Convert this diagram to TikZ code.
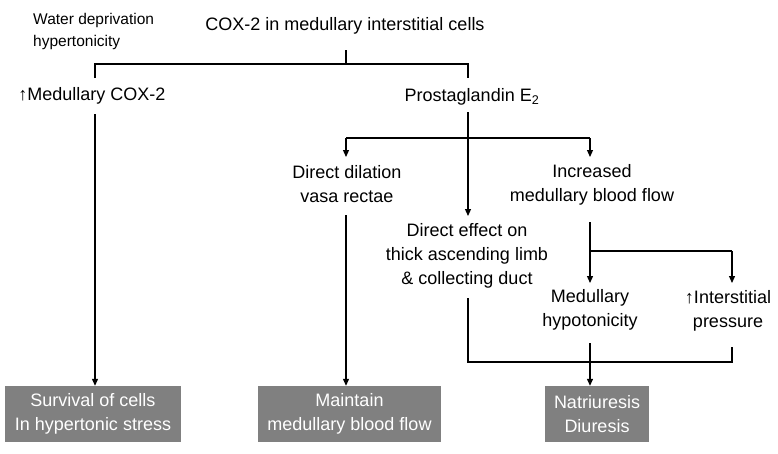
\documentclass[tikz,border=0pt]{standalone}
\usepackage{fontspec}
\setmainfont{Liberation Sans}
\usetikzlibrary{arrows.meta}
\definecolor{boxgray}{RGB}{128,128,128}
\begin{document}
\begin{tikzpicture}[x=1pt,y=-1pt,
  ln/.style={line width=1.2pt},
  arr/.style={line width=1.2pt,-{Triangle[width=6pt,length=7pt]}},
  txt/.style={font=\fontsize{18}{24}\selectfont,align=center,inner sep=0pt},
  small/.style={font=\fontsize{15.5}{22}\selectfont,align=left,inner sep=0pt},
  outbox/.style={fill=boxgray,text=white,font=\fontsize{18}{24}\selectfont,align=center,minimum height=56pt,inner sep=0pt}]
\useasboundingbox (0,0) rectangle (778,453);
% texts
\node[small,anchor=west] (water) at (33,31) {Water deprivation\\hypertonicity};
\node[txt] (cox) at (345,26) {COX-2 in medullary interstitial cells};
\node[txt] (medcox) at (92,96) {↑Medullary COX-2};
\node[txt] (pge) at (472,97) {Prostaglandin E\textsubscript{2}};
\node[txt] (dil) at (347,184) {Direct dilation\\vasa rectae};
\node[txt] (inc) at (592,185) {Increased\\medullary blood flow};
\node[txt] (deff) at (467,256) {Direct effect on\\thick ascending limb\\\& collecting duct};
\node[txt] (hypo) at (590,310) {Medullary\\hypotonicity};
\node[txt] (ipres) at (728,311) {↑Interstitial\\pressure};
% boxes
\node[outbox,minimum width=176pt] (box1) at (93,414) {Survival of cells\\In hypertonic stress};
\node[outbox,minimum width=183pt] (box2) at (349.5,414) {Maintain\\medullary blood flow};
\node[outbox,minimum width=104pt] (box3) at (597,414) {Natriuresis\\Diuresis};
% coordinates
\coordinate (c1) at (346,50);
\coordinate (c2) at (346,64);
\coordinate (l1) at (95,64);
\coordinate (l2) at (95,78);
\coordinate (r1) at (468,64);
\coordinate (r2) at (468,78);
\coordinate (a1) at (95,114);
\coordinate (p1) at (468,112);
\coordinate (p2) at (468,216);
\coordinate (b1) at (346,138);
\coordinate (b2) at (590,138);
\coordinate (b1e) at (346,157);
\coordinate (b2e) at (590,157);
\coordinate (d1) at (346,215);
\coordinate (i1) at (590,222);
\coordinate (i2) at (590,283);
\coordinate (i3) at (590,251);
\coordinate (i4) at (732,251);
\coordinate (i5) at (732,283);
\coordinate (e1) at (468,298);
\coordinate (e2) at (468,362);
\coordinate (e3) at (732,362);
\coordinate (e4) at (732,347);
\coordinate (h1) at (590,343);
% connectors
\draw[ln] (c1) -- (c2);
\draw[ln] (l2) -- (l1) -- (r1) -- (r2);
\draw[arr] (a1) -- (a1 |- box1.north);
\draw[arr] (p1) -- (p2);
\draw[ln] (b1) -- (b2);
\draw[arr] (b1) -- (b1e);
\draw[arr] (b2) -- (b2e);
\draw[arr] (d1) -- (d1 |- box2.north);
\draw[arr] (i1) -- (i2);
\draw[ln] (i3) -- (i4);
\draw[arr] (i4) -- (i5);
\draw[ln] (e1) -- (e2) -- (e3) -- (e4);
\draw[arr] (h1) -- (h1 |- box3.north);
\end{tikzpicture}
\end{document}
